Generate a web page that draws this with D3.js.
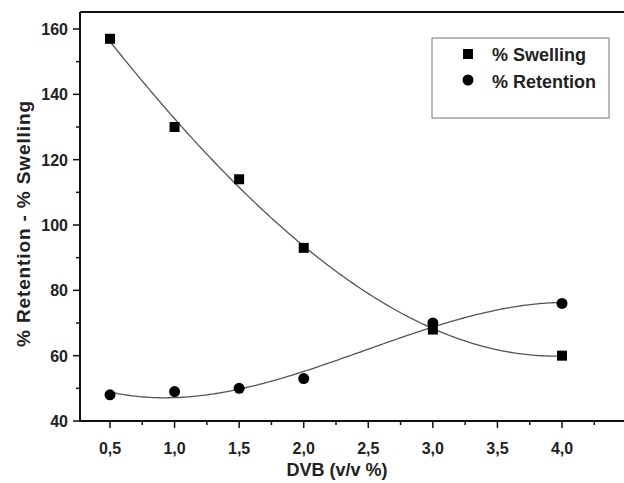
<!DOCTYPE html>
<html>
<head>
<meta charset="utf-8">
<script src="https://cdn.jsdelivr.net/npm/d3@7"></script>
<style>
  body { margin: 0; background: #fff; }
  svg { font-family: "Liberation Sans", Arial, sans-serif; }
</style>
</head>
<body>
<div id="chart"></div>
<script>
// data
var dvb = [0.5, 1.0, 1.5, 2.0, 3.0, 4.0];
var swelling = [157, 130, 114, 93, 68, 60];
var retention = [48, 49, 50, 53, 70, 76];
var xTicks = [0.5, 1.0, 1.5, 2.0, 2.5, 3.0, 3.5, 4.0];
var yTicks = [40, 60, 80, 100, 120, 140, 160];

var W = 624, H = 483;
var plotLeft = 80, plotTop = 12, plotBottom = 421, plotRight = 624;

var svg = d3.select('#chart').append('svg').attr('width', W).attr('height', H);

// 0.5 -> 110, 4.0 -> 562
var x = d3.scaleLinear().domain([0.5, 4.0]).range([110, 562]);
var y = d3.scaleLinear().domain([40, 160]).range([plotBottom, 29]);

/**
 * least squares polynomial fit (like the original software's poly fit)
 */
function polyFit(xs, ys, deg) {
    var n = deg + 1, A = [], i, j, k;
    for (i = 0; i < n; i++) {
        A.push([]);
        for (j = 0; j <= n; j++) A[i].push(0);
    }
    xs.forEach(function (xv, p) {
        for (i = 0; i < n; i++) {
            for (j = 0; j < n; j++) A[i][j] += Math.pow(xv, i + j);
            A[i][n] += ys[p] * Math.pow(xv, i);
        }
    });
    for (i = 0; i < n; i++) {
        var piv = i;
        for (k = i + 1; k < n; k++) if (Math.abs(A[k][i]) > Math.abs(A[piv][i])) piv = k;
        var t = A[i]; A[i] = A[piv]; A[piv] = t;
        for (k = i + 1; k < n; k++) {
            var f = A[k][i] / A[i][i];
            for (j = i; j <= n; j++) A[k][j] -= f * A[i][j];
        }
    }
    var c = new Array(n).fill(0);
    for (i = n - 1; i >= 0; i--) {
        var s = A[i][n];
        for (j = i + 1; j < n; j++) s -= A[i][j] * c[j];
        c[i] = s / A[i][i];
    }
    return function (xv) {
        var r = 0;
        for (var q = 0; q < n; q++) r += c[q] * Math.pow(xv, q);
        return r;
    };
}

var line = d3.line().x(function (d) { return x(d[0]); }).y(function (d) { return y(d[1]); });

function fitCurve(ys) {
    var fn = polyFit(dvb, ys, 3);
    var pts = d3.range(0, 201).map(function (i) {
        var xv = 0.5 + i * 3.5 / 200;
        return [xv, fn(xv)];
    });
    svg.append('path').attr('d', line(pts))
        .attr('fill', 'none').attr('stroke', '#555').attr('stroke-width', 1.3);
}
fitCurve(swelling);
fitCurve(retention);

// markers
svg.selectAll('rect.sw').data(dvb).enter().append('rect').attr('class', 'sw')
    .attr('x', function (d) { return x(d) - 5; })
    .attr('y', function (d, i) { return y(swelling[i]) - 5; })
    .attr('width', 10).attr('height', 10).attr('fill', '#000');
svg.selectAll('circle.rt').data(dvb).enter().append('circle').attr('class', 'rt')
    .attr('cx', function (d) { return x(d); })
    .attr('cy', function (d, i) { return y(retention[i]); })
    .attr('r', 5.5).attr('fill', '#000');

// frame: top border and axes
svg.append('line').attr('x1', plotLeft).attr('x2', plotRight).attr('y1', plotTop).attr('y2', plotTop)
    .attr('stroke', '#111').attr('stroke-width', 2);

var fmt = function (d) { return d3.format('.1f')(d).replace('.', ','); };

var xAxis = svg.append('g').attr('transform', 'translate(0,' + plotBottom + ')');
xAxis.append('line').attr('x1', plotLeft).attr('x2', plotRight).attr('stroke', '#111').attr('stroke-width', 2);
var xMinor = d3.range(0.75, 4.5, 0.5);
xAxis.selectAll('line.mn').data(xMinor).enter().append('line')
    .attr('x1', x).attr('x2', x).attr('y1', 0).attr('y2', 4).attr('stroke', '#111').attr('stroke-width', 1.5);
xAxis.selectAll('line.mj').data(xTicks).enter().append('line')
    .attr('x1', x).attr('x2', x).attr('y1', 0).attr('y2', 7).attr('stroke', '#111').attr('stroke-width', 1.5);
xAxis.selectAll('text').data(xTicks).enter().append('text')
    .attr('x', x).attr('y', 33).attr('text-anchor', 'middle')
    .attr('font-size', 16).attr('font-weight', 'bold').attr('fill', '#222').text(fmt);

var yAxis = svg.append('g').attr('transform', 'translate(' + plotLeft + ',0)');
yAxis.append('line').attr('y1', plotTop).attr('y2', plotBottom + 1).attr('stroke', '#111').attr('stroke-width', 2);
var yMinor = d3.range(50, 170, 20);
yAxis.selectAll('line.mn').data(yMinor).enter().append('line')
    .attr('y1', y).attr('y2', y).attr('x1', 0).attr('x2', -4).attr('stroke', '#111').attr('stroke-width', 1.5);
yAxis.selectAll('line.mj').data(yTicks).enter().append('line')
    .attr('y1', y).attr('y2', y).attr('x1', 0).attr('x2', -7).attr('stroke', '#111').attr('stroke-width', 1.5);
yAxis.selectAll('text').data(yTicks).enter().append('text')
    .attr('x', -12).attr('y', function (d) { return y(d) + 6; }).attr('text-anchor', 'end')
    .attr('font-size', 16).attr('font-weight', 'bold').attr('fill', '#222').text(String);

// axis titles
svg.append('text').attr('x', 337).attr('y', 476).attr('text-anchor', 'middle')
    .attr('font-size', 18).attr('font-weight', 'bold').attr('fill', '#222').text('DVB (v/v %)');
svg.append('text').attr('transform', 'translate(30,224) rotate(-90)')
    .attr('text-anchor', 'middle').attr('font-size', 19).attr('font-weight', 'bold').attr('fill', '#222')
    .attr('textLength', 246).attr('lengthAdjust', 'spacing')
    .text('% Retention - % Swelling');

// legend
var lg = svg.append('g');
lg.append('rect').attr('x', 432).attr('y', 38).attr('width', 177).attr('height', 80)
    .attr('fill', '#fff').attr('stroke', '#777').attr('stroke-width', 1);
lg.append('rect').attr('x', 463).attr('y', 49).attr('width', 10).attr('height', 10).attr('fill', '#000');
lg.append('circle').attr('cx', 468).attr('cy', 80).attr('r', 5.5).attr('fill', '#000');
lg.append('text').attr('x', 492).attr('y', 61).attr('font-size', 18).attr('font-weight', 'bold')
    .attr('fill', '#222').text('% Swelling');
lg.append('text').attr('x', 492).attr('y', 88).attr('font-size', 18).attr('font-weight', 'bold')
    .attr('fill', '#222').text('% Retention');
</script>
</body>
</html>
